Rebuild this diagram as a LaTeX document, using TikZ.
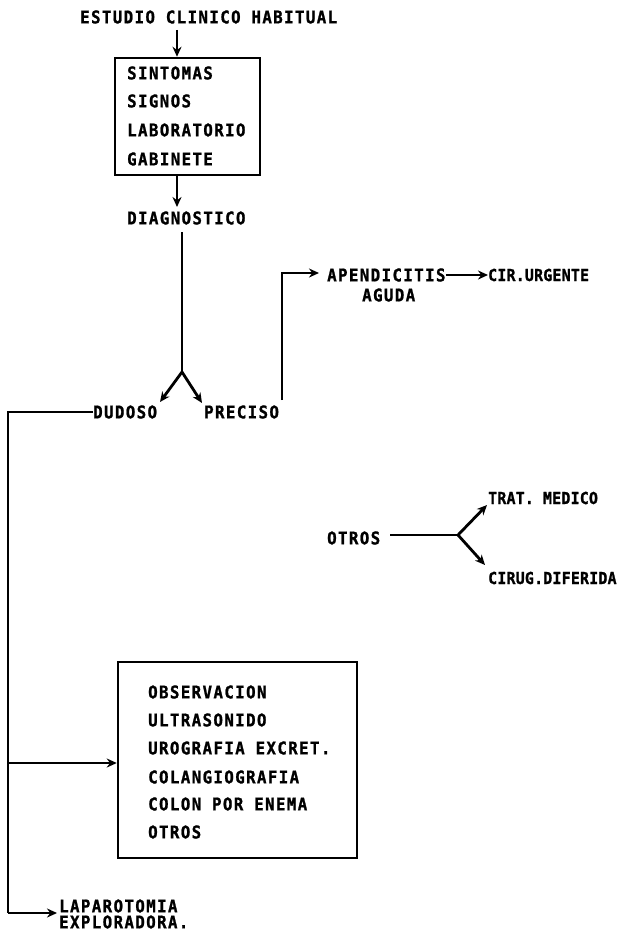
\documentclass[tikz,border=0pt]{standalone}
\usepackage{fontspec}
\usetikzlibrary{arrows.meta}
\newfontfamily\wfont[LetterSpace=8,FakeStretch=0.9,FakeBold=1.2]{DejaVu Sans Mono}
\newfontfamily\nfont[LetterSpace=1.5,FakeStretch=0.9,FakeBold=1.2]{DejaVu Sans Mono}
\begin{document}
\begin{tikzpicture}[x=1pt,y=-1pt,
  txt/.style={anchor=west,inner sep=0pt,font=\wfont\bfseries\fontsize{17.5}{18}\selectfont},
  ntxt/.style={anchor=west,inner sep=0pt,font=\nfont\bfseries\fontsize{16.5}{18}\selectfont},
  ln/.style={line width=2.8pt,line join=miter},
  arr/.style={ln,-{Stealth[length=10pt,width=9pt]}},
  boxx/.style={draw,line width=2.5pt,inner sep=0pt}]
\useasboundingbox (0,0) rectangle (619,934);
% top
\node[txt] (est) at (80,17) {ESTUDIO CLINICO HABITUAL};
\node[boxx,minimum width=145pt,minimum height=117pt] (box1) at (187.5,116.5) {};
\node[txt] (s1) at (127,73) {SINTOMAS};
\node[txt] (s2) at (127,101) {SIGNOS};
\node[txt] (s3) at (127,130) {LABORATORIO};
\node[txt] (s4) at (127,159) {GABINETE};
\node[txt] (diag) at (127,218) {DIAGNOSTICO};
\coordinate (a1) at (177,30);
\coordinate (a2) at (177,207);
\draw[arr] (a1) -- (a1 |- box1.north);
\draw[arr] (a2 |- box1.south) -- (a2);
% split
\coordinate (j1) at (182,372);
\coordinate (d0) at (182,232);
\node[txt] (dud) at (93,412) {DUDOSO};
\node[txt] (pre) at (204,412) {PRECISO};
\draw[ln] (d0) -- (j1);
\draw[arr] (j1) -- (160,402);
\draw[arr] (j1) -- (202,403);
% preciso branch
\node[txt] (apa) at (327,275) {APENDICITIS};
\node[txt] (agu) at (362,295) {AGUDA};
\node[ntxt] (cir) at (488,275) {CIR.URGENTE};
\coordinate (p0) at (282,400);
\coordinate (p1) at (282,273);
\coordinate (p2) at (319,273);
\draw[arr] (p0) -- (p1) -- (p2);
\draw[arr] (apa.east) -- (cir.west);
% otros
\node[txt] (otr) at (327,538) {OTROS};
\coordinate (j2) at (458,535);
\coordinate (q0) at (390,535);
\node[ntxt] (tra) at (488,498) {TRAT. MEDICO};
\node[ntxt] (cid) at (488,578) {CIRUG.DIFERIDA};
\draw[ln] (q0) -- (j2);
\draw[arr] (j2) -- (487,505);
\draw[arr] (j2) -- (485,565);
% dudoso branch
\node[boxx,minimum width=239pt,minimum height=196pt] (box2) at (237.5,760) {};
\node[txt] (o1) at (148,692) {OBSERVACION};
\node[txt] (o2) at (148,720) {ULTRASONIDO};
\node[txt] (o3) at (148,748) {UROGRAFIA EXCRET.};
\node[txt] (o4) at (148,777) {COLANGIOGRAFIA};
\node[txt] (o5) at (148,804) {COLON POR ENEMA};
\node[txt] (o6) at (148,832) {OTROS};
\node[txt] (lap1) at (59,906) {LAPAROTOMIA};
\node[txt] (lap2) at (59,922) {EXPLORADORA.};
\coordinate (c1) at (8,412);
\coordinate (c2) at (8,913);
\coordinate (c3) at (8,763);
\coordinate (c4) at (57,913);
\draw[ln] (dud.west) -- (c1) -- (c2);
\draw[arr] (c2) -- (c4);
\draw[arr] (c3) -- (box2.west |- c3);
\end{tikzpicture}
\end{document}
